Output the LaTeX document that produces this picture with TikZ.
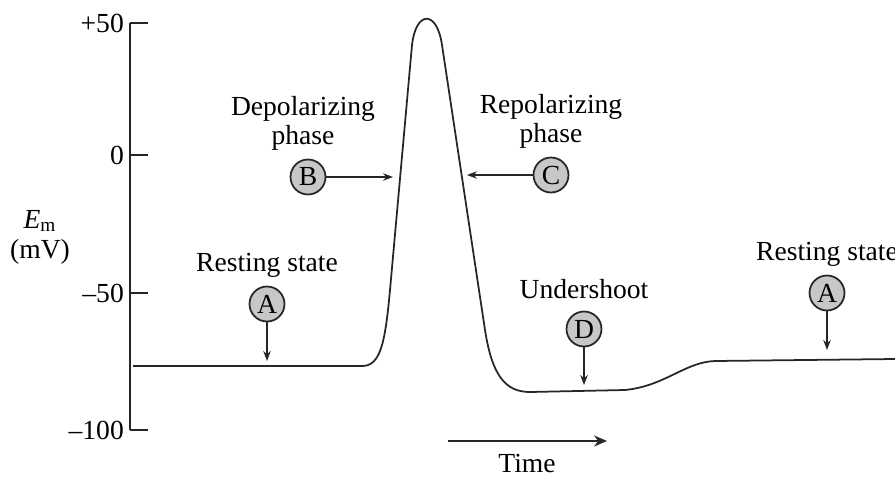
\documentclass[tikz,border=0pt]{standalone}
\usepackage{fontspec}
\setmainfont{Liberation Serif}
\usetikzlibrary{positioning}
\usetikzlibrary{arrows.meta}

\begin{document}
\begin{tikzpicture}[x=0.02cm, y=-0.02cm, >={Stealth[length=2mm, width=1.5mm]}, draw=black!85, font=\fontsize{15.7}{17}\selectfont]
    \tikzstyle{phase}=[draw=black!85, circle, fill=black!22, minimum size=0.7cm, inner sep=0pt, line width=1pt]
    \tikzstyle{caption}=[align=center, inner sep=0pt]
    \tikzstyle{pointer}=[->, line width=0.7pt]

    \useasboundingbox (0,0) rectangle (895,477);

    % voltage axis
    \draw[line width=0.8pt] (130,23) -- (130,430);
    \foreach \y/\mv [count=\i] in {23/+50, 155/0, 293/--50, 430/--100} {
        \draw[line width=0.8pt] (130,\y) -- (148,\y);
        \node[anchor=east] (tick\i) at (130,\y) {\mv};
    }
    \node[caption] (unit) at (40,237) {\textit{E}\textsubscript{m}\\(mV)};

    % membrane potential
    \draw[line width=1pt] (133,366) -- (362,366)
        .. controls (380,366) and (385,345) .. (390,290)
        -- (412,45)
        .. controls (416,10) and (437,10) .. (442,45)
        -- (485,330)
        .. controls (492,375) and (505,392) .. (530,392)
        -- (625,390)
        .. controls (665,386) and (685,362) .. (715,361)
        -- (895,359);

    % arrow targets on the trace
    \coordinate (rest1) at (267,361);
    \coordinate (depol) at (393,177);
    \coordinate (repol) at (467,175);
    \coordinate (under) at (584,385);
    \coordinate (rest2) at (827,350);

    \node[phase] (restA) at (267,304) {A};
    \node[phase] (depolB) at (308,177) {B};
    \node[phase] (repolC) at (551,175) {C};
    \node[phase] (underD) at (584,329) {D};
    \node[phase] (restA2) at (827,293) {A};

    \draw[pointer] (restA) -- (rest1);
    \draw[pointer] (depolB) -- (depol);
    \draw[pointer] (repolC) -- (repol);
    \draw[pointer] (underD) -- (under);
    \draw[pointer] (restA2) -- (rest2);

    \node[caption, above=1.5mm of restA] {Resting state};
    \node[caption, above=1.5mm of depolB, xshift=-0.1cm] {Depolarizing\\phase};
    \node[caption, above=1.5mm of repolC] {Repolarizing\\phase};
    \node[caption, above=2.3mm of underD] {Undershoot};
    \node[caption, above=1.5mm of restA2] {Resting state};

    % time direction
    \coordinate (t0) at (448,441);
    \coordinate (t1) at (607,441);
    \draw[pointer, >={Stealth[length=2.6mm, width=2.2mm]}] (t0) -- (t1);
    \node (time) at (527,463) {Time};
\end{tikzpicture}
\end{document}
